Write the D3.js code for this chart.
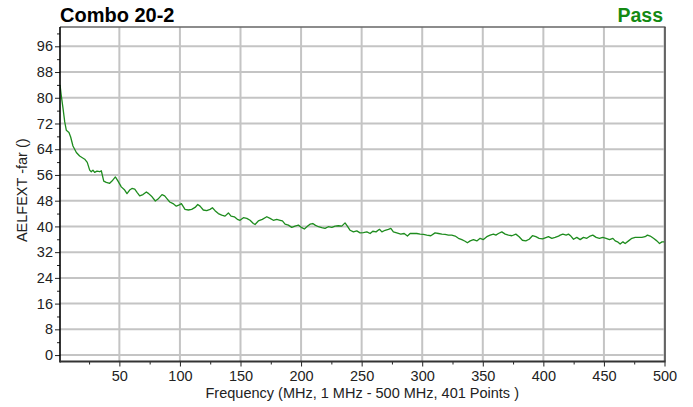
<!DOCTYPE html>
<html>
<head>
<meta charset="utf-8">
<script src="https://cdn.jsdelivr.net/npm/d3@7/dist/d3.min.js"></script>
<style>
  html, body { margin: 0; padding: 0; background: #ffffff; }
  svg { display: block; font-family: "Liberation Sans", Arial, sans-serif; }
</style>
</head>
<body>
<svg id="chart" width="693" height="407"></svg>
<script>
const titleText = "Combo 20-2";
const statusText = "Pass";
const xLabel = "Frequency (MHz, 1 MHz - 500 MHz, 401 Points )";
const yLabel = "AELFEXT -far ()";
const xTicks = [50, 100, 150, 200, 250, 300, 350, 400, 450, 500];
const xMinorTicks = [25, 75, 125, 175, 225, 275, 325, 375, 425, 475];
const yTicks = [0, 8, 16, 24, 32, 40, 48, 56, 64, 72, 80, 88, 96];
const yMinorTicks = [4, 12, 20, 28, 36, 44, 52, 60, 68, 76, 84, 92, 100];

// frequency (MHz) and AELFEXT values
const freq = [
  1, 2, 3.5, 4.9, 6.2, 8.4, 9.8, 11.7, 14.5, 17.2, 21.4, 23.5, 25.5, 26.8, 28.2, 29.6, 31.5, 33.8, 35.1, 37.1,
  39.2, 42, 43.9, 46.7, 48.9, 51.6, 54.4, 56.3, 58.5, 60.4, 62.7, 64.6, 66.8, 69.5, 72.3, 74.2, 77, 79.7, 81.9, 85.2,
  87.4, 89.6, 91.6, 94.3, 97, 99, 101.2, 104.2, 107, 109.7, 112.5, 114.7, 116.6, 119.3, 122.1, 124.9, 126.8, 129, 131.7, 134.5,
  137.2, 140, 142.2, 144.9, 147.4, 149.6, 152.4, 155.2, 157.9, 160.6, 162, 164.7, 168, 171.7, 174.4, 177.1, 179.9, 182.7, 184.6, 186.8,
  189.5, 192.3, 195, 197.8, 200.6, 202.7, 205.5, 207.4, 209.7, 211.6, 214.3, 217.1, 219.8, 222.5, 225.4, 228.1, 230.8, 233.6, 236.3, 238.2,
  240.5, 243.2, 246, 248.7, 251.4, 254.3, 257, 259.2, 261.9, 264.7, 266.7, 269.4, 272.1, 274.1, 276.2, 279, 282.3, 285.1, 287.8, 290,
  292.7, 295.5, 298.3, 301, 303.8, 307.1, 310.6, 313.4, 316.2, 318.9, 321.6, 324.4, 327.2, 329.9, 332.7, 335.4, 337.3, 339.6, 342.3, 345.1,
  347.8, 350.5, 353.3, 356.1, 358.8, 360.8, 362.9, 365.7, 368.5, 371.2, 374, 377.3, 380, 382.7, 385.5, 388.3, 391, 393.8, 396.5, 399.3,
  402.1, 404.2, 407, 409.7, 412.5, 413.9, 416.1, 418.8, 420.7, 422.7, 424.9, 427.6, 430.4, 433.1, 435.9, 438.6, 440.8, 443.6, 446.3, 449.1,
  451.8, 454.6, 457.4, 459.3, 461.2, 463.4, 465.7, 467.5, 470.3, 473.1, 475.8, 478.5, 481.3, 484, 485.9, 488.2, 490.9, 493.7, 495.9, 497.9, 500
];
const values = [
  84.0, 80.8, 76.7, 72.5, 69.9, 69.2, 67.8, 65.0, 63.0, 61.9, 60.9, 59.9, 57.5, 57.0, 57.5, 56.8, 57.2, 57.0, 57.3, 54.1,
  53.7, 53.4, 54.1, 55.4, 54.1, 52.3, 51.3, 50.2, 51.3, 51.8, 51.6, 50.6, 49.5, 49.9, 50.7, 50.2, 49.2, 47.9, 48.5, 49.9,
  49.5, 48.5, 47.6, 47.1, 46.3, 46.6, 47.1, 45.3, 45.1, 45.3, 45.9, 46.8, 46.3, 45.1, 44.9, 45.3, 45.8, 44.9, 44.0, 43.5,
  43.2, 44.2, 43.2, 43.0, 42.2, 41.9, 42.7, 42.5, 41.9, 40.9, 40.6, 41.7, 42.2, 43.0, 42.5, 41.9, 42.2, 41.9, 41.7, 40.7,
  40.4, 39.7, 40.1, 40.4, 39.6, 39.2, 40.1, 40.7, 40.9, 40.4, 39.9, 39.6, 39.4, 39.9, 39.7, 40.1, 40.2, 40.1, 41.1, 40.1,
  38.8, 38.3, 38.6, 38.0, 38.1, 38.3, 37.8, 38.5, 38.3, 39.1, 38.3, 38.8, 39.1, 39.4, 38.3, 38.0, 37.6, 37.8, 37.0, 37.8,
  37.8, 37.8, 37.6, 37.5, 37.3, 37.1, 38.0, 37.8, 37.6, 37.5, 37.3, 37.3, 37.0, 36.3, 35.9, 35.4, 34.9, 35.5, 35.9, 35.5,
  36.3, 35.9, 36.8, 37.3, 37.6, 37.3, 37.8, 38.3, 37.6, 37.3, 37.1, 37.6, 36.8, 35.7, 35.5, 36.0, 37.1, 36.8, 36.3, 36.1,
  36.5, 36.8, 36.3, 36.6, 37.0, 37.3, 37.6, 37.3, 37.6, 37.0, 36.0, 36.6, 35.9, 36.6, 36.3, 37.0, 37.3, 36.6, 36.3, 36.6,
  36.3, 35.9, 36.3, 35.5, 35.2, 34.5, 35.2, 34.7, 35.5, 36.3, 36.6, 36.6, 36.6, 36.8, 37.3, 37.0, 36.3, 35.5, 34.7, 35.2, 35.2
];

(function () {
const data = freq.map((f, i) => ({ f: f, v: values[i] }));

const svg = d3.select("#chart");
const pL = 60, pR = 664.5, pT = 27, pB = 361.5;

const x = d3.scaleLinear().domain([1, 500]).range([pL, pR]);
const y = d3.scaleLinear().domain([-2, 102]).range([pB, pT]);

// gridlines
const grid = svg.append("g");
grid.selectAll("line.h").data(yTicks).join("line").attr("class", "h")
  .attr("x1", pL).attr("x2", pR)
  .attr("y1", d => y(d)).attr("y2", d => y(d))
  .attr("stroke", "#c4c4c4").attr("stroke-width", 2);
grid.selectAll("line.v").data(xTicks).join("line").attr("class", "v")
  .attr("y1", pT).attr("y2", pB)
  .attr("x1", d => x(d)).attr("x2", d => x(d))
  .attr("stroke", "#c4c4c4").attr("stroke-width", 2);

// frame (top & right)
svg.append("line").attr("x1", pL).attr("x2", pR + 1).attr("y1", pT).attr("y2", pT)
  .attr("stroke", "#666").attr("stroke-width", 1.5);
svg.append("line").attr("x1", pR + 0.5).attr("x2", pR + 0.5).attr("y1", pT).attr("y2", pB)
  .attr("stroke", "#444").attr("stroke-width", 1.5);

// data line
svg.append("clipPath").attr("id", "plotclip").append("rect")
  .attr("x", pL).attr("y", pT).attr("width", pR - pL).attr("height", pB - pT);
svg.append("path").datum(data)
  .attr("clip-path", "url(#plotclip)")
  .attr("fill", "none")
  .attr("stroke", "#1e8c1e")
  .attr("stroke-width", 1.3)
  .attr("stroke-linejoin", "round")
  .attr("d", d3.line().x(d => x(d.f)).y(d => y(d.v)));

// axes
const fontSize = "14.5px";
const yAxis = svg.append("g").attr("transform", `translate(${pL},0)`)
  .call(d3.axisLeft(y).tickValues(yTicks).tickSize(5).tickPadding(2).tickFormat(d3.format("d")));
yAxis.select(".domain").remove();
yAxis.selectAll("text").attr("font-size", fontSize).attr("fill", "#222").attr("font-family", "Liberation Sans, Arial, sans-serif");
yAxis.selectAll("line").attr("stroke", "#222");
svg.append("g").attr("transform", `translate(${pL},0)`)
  .call(d3.axisLeft(y).tickValues(yMinorTicks).tickSize(3).tickFormat(""))
  .call(g => g.select(".domain").remove())
  .selectAll("line").attr("stroke", "#222");

const xAxis = svg.append("g").attr("transform", `translate(0,${pB})`)
  .call(d3.axisBottom(x).tickValues(xTicks).tickSize(5).tickPadding(4).tickFormat(d3.format("d")));
xAxis.select(".domain").remove();
xAxis.selectAll("text").attr("font-size", fontSize).attr("fill", "#222").attr("font-family", "Liberation Sans, Arial, sans-serif");
xAxis.selectAll("line").attr("stroke", "#222");
svg.append("g").attr("transform", `translate(0,${pB})`)
  .call(d3.axisBottom(x).tickValues(xMinorTicks).tickSize(3).tickFormat(""))
  .call(g => g.select(".domain").remove())
  .selectAll("line").attr("stroke", "#222");

// axis lines (left & bottom)
svg.append("line").attr("x1", pL).attr("x2", pL).attr("y1", pT).attr("y2", pB + 1)
  .attr("stroke", "#000").attr("stroke-width", 1.6);
svg.append("line").attr("x1", pL).attr("x2", pR + 1).attr("y1", pB).attr("y2", pB)
  .attr("stroke", "#333").attr("stroke-width", 2);

// titles
svg.append("text").attr("x", pL).attr("y", 22)
  .attr("font-size", "20px").attr("font-weight", "bold").attr("fill", "#000")
  .text(titleText);
svg.append("text").attr("x", 663).attr("y", 22).attr("text-anchor", "end")
  .attr("font-size", "19.5px").attr("font-weight", "bold").attr("fill", "#138a13")
  .text(statusText);

svg.append("text").attr("x", (pL + pR) / 2).attr("y", 398).attr("text-anchor", "middle")
  .attr("font-size", fontSize).attr("fill", "#222").text(xLabel);
svg.append("text").attr("transform", `translate(27,${(pT + pB) / 2 - 4}) rotate(-90)`)
  .attr("text-anchor", "middle").attr("font-size", fontSize).attr("fill", "#222").text(yLabel);
})();
</script>
</body>
</html>
